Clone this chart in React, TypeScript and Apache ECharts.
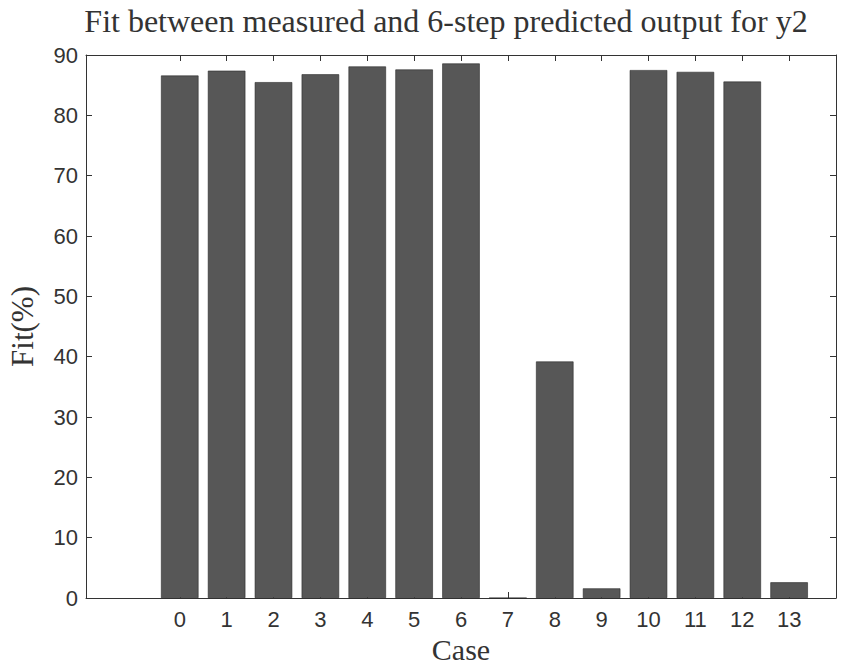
import React, { useEffect, useRef } from "react";
import * as echarts from "echarts";

// Case indices on the horizontal axis
const cases: number[] = [0, 1, 2, 3, 4, 5, 6, 7, 8, 9, 10, 11, 12, 13];
// Fit (%) between measured and 6-step predicted output for each case
const fitValues: number[] = [86.6, 87.4, 85.5, 86.8, 88.1, 87.6, 88.6, 0, 39.2, 1.6, 87.5, 87.2, 85.6, 2.6];
// Tick values on the vertical axis
const yTicks: number[] = [0, 10, 20, 30, 40, 50, 60, 70, 80, 90];

const titleText = "Fit between measured and 6-step predicted output for y2";
const xName = "Case";
const yName = "Fit(%)";

const SERIF = "'Liberation Serif', 'DejaVu Serif', serif";
const SANS = "'Liberation Sans', Arial, sans-serif";
const INK = "#333";

export default function App() {
  const ref = useRef<HTMLDivElement>(null);

  useEffect(() => {
    if (!ref.current) return;
    const chart = echarts.init(ref.current, undefined, { renderer: "svg" });

    const boxLine = { show: true, onZero: false, lineStyle: { color: INK, width: 1 } };
    const innerTick = { show: true, inside: true, length: 6, lineStyle: { color: INK, width: 1 } };

    chart.setOption({
      animation: false,
      backgroundColor: "#fff",
      graphic: [
        {
          type: "text",
          x: 446,
          y: 21,
          style: {
            text: titleText,
            font: `32px ${SERIF}`,
            fill: INK,
            align: "center",
            verticalAlign: "middle",
          },
        },
      ],
      grid: {
        left: 86,
        right: 25,
        top: 55,
        bottom: 71,
        containLabel: false,
        outerBoundsMode: "none",
      },
      xAxis: [
        {
          type: "value",
          position: "bottom",
          min: -2,
          max: 14,
          interval: 1,
          splitLine: { show: false },
          axisLine: boxLine,
          axisTick: { ...innerTick, customValues: cases },
          axisLabel: {
            customValues: cases,
            color: INK,
            fontFamily: SANS,
            fontSize: 22,
            margin: 10,
          },
          name: xName,
          nameLocation: "middle",
          nameGap: 35,
          nameTextStyle: { fontFamily: SERIF, fontSize: 30, color: INK },
        },
        {
          type: "value",
          position: "top",
          min: -2,
          max: 14,
          interval: 1,
          splitLine: { show: false },
          axisLine: boxLine,
          axisTick: { ...innerTick, customValues: cases },
          axisLabel: { show: false },
        },
      ],
      yAxis: [
        {
          type: "value",
          position: "left",
          min: yTicks[0],
          max: yTicks[yTicks.length - 1],
          interval: 10,
          splitLine: { show: false },
          axisLine: boxLine,
          axisTick: innerTick,
          axisLabel: { color: INK, fontFamily: SANS, fontSize: 22, margin: 8 },
          name: yName,
          nameLocation: "middle",
          nameGap: 48,
          nameTextStyle: { fontFamily: SERIF, fontSize: 31, color: INK },
        },
        {
          type: "value",
          position: "right",
          min: yTicks[0],
          max: yTicks[yTicks.length - 1],
          interval: 10,
          splitLine: { show: false },
          axisLine: boxLine,
          axisTick: innerTick,
          axisLabel: { show: false },
        },
      ],
      series: [
        {
          type: "bar",
          xAxisIndex: 0,
          yAxisIndex: 0,
          data: cases.map((c, i) => [c, fitValues[i]]),
          barWidth: "80%",
          itemStyle: { color: "#575757", borderColor: "#2a2a2a", borderWidth: 0.6 },
        },
      ],
    });

    return () => chart.dispose();
  }, []);

  return (
    <div
      ref={ref}
      style={{ position: "fixed", left: 0, top: 0, width: 861, height: 669 }}
    />
  );
}
